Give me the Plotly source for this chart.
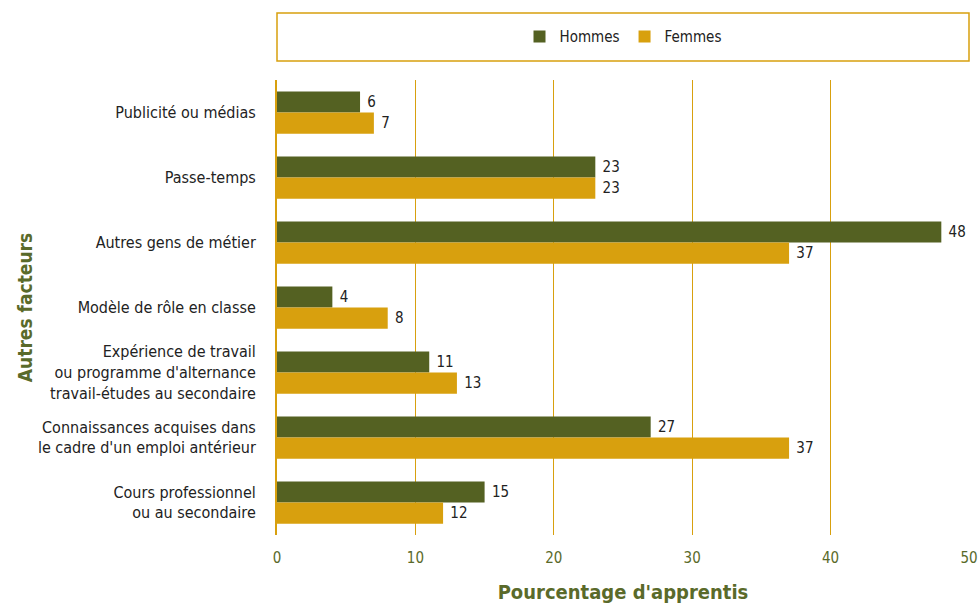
import plotly.graph_objects as go

categories = [
    "Publicité ou médias",
    "Passe-temps",
    "Autres gens de métier",
    "Modèle de rôle en classe",
    "Expérience de travail<br>ou programme d'alternance<br>travail-études au secondaire",
    "Connaissances acquises dans<br>le cadre d'un emploi antérieur",
    "Cours professionnel<br>ou au secondaire",
]
hommes = [6, 23, 48, 4, 11, 27, 15]
femmes = [7, 23, 37, 8, 13, 37, 12]
x_ticks = [0, 10, 20, 30, 40, 50]

FONT = "Liberation Sans Narrow, DejaVu Sans Condensed, Roboto, sans-serif"
GREEN = "#546122"
GOLD = "#D8A00E"
AXIS_GREEN = "#5a6a2a"

fig = go.Figure()
fig.add_trace(go.Bar(
    y=categories, x=hommes, name="Hommes", orientation="h",
    marker=dict(color=GREEN, line=dict(width=0)),
    text=[f" {v}" for v in hommes], textposition="outside", cliponaxis=False,
    textfont=dict(family=FONT, size=15, color="#222222"),
))
fig.add_trace(go.Bar(
    y=categories, x=femmes, name="Femmes", orientation="h",
    marker=dict(color=GOLD, line=dict(width=0)),
    text=[f" {v}" for v in femmes], textposition="outside", cliponaxis=False,
    textfont=dict(family=FONT, size=15, color="#222222"),
))

fig.update_layout(
    width=980, height=607,
    barmode="group", bargap=0.35, bargroupgap=0,
    plot_bgcolor="white", paper_bgcolor="white",
    margin=dict(l=277, r=11, t=80, b=72, autoexpand=False),
    font=dict(family=FONT, size=16, color="#222222"),
    showlegend=True,
    legend=dict(orientation="h", x=0.5, xanchor="center", y=1.095, yanchor="middle",
                font=dict(family=FONT, size=15, color="#222222"),
                traceorder="normal"),
    xaxis=dict(range=[0, 50], tickvals=x_ticks, showgrid=True, gridcolor=GOLD, gridwidth=1,
               zeroline=False, showline=False, automargin=False,
               tickfont=dict(family=FONT, size=15, color=AXIS_GREEN),
               ticklabelstandoff=12,
               title=dict(text="<b>Pourcentage d'apprentis</b>", standoff=18,
                          font=dict(family=FONT, size=20, color=AXIS_GREEN))),
    yaxis=dict(autorange="reversed", showline=True, linecolor=GOLD, linewidth=2,
               ticks="", ticklabelstandoff=16, automargin=False,
               tickfont=dict(family=FONT, size=16, color="#222222"),
               title=dict(text="<b>Autres facteurs</b>", standoff=0,
                          font=dict(family=FONT, size=19, color=AXIS_GREEN))),
    shapes=[dict(type="rect", xref="paper", yref="paper", x0=0, x1=1, y0=1.042, y1=1.147,
                 line=dict(color=GOLD, width=1.5), fillcolor="rgba(0,0,0,0)")],
)

fig.write_html("out.html", config={"displayModeBar": False},
               post_script="document.body.style.margin='0';")
